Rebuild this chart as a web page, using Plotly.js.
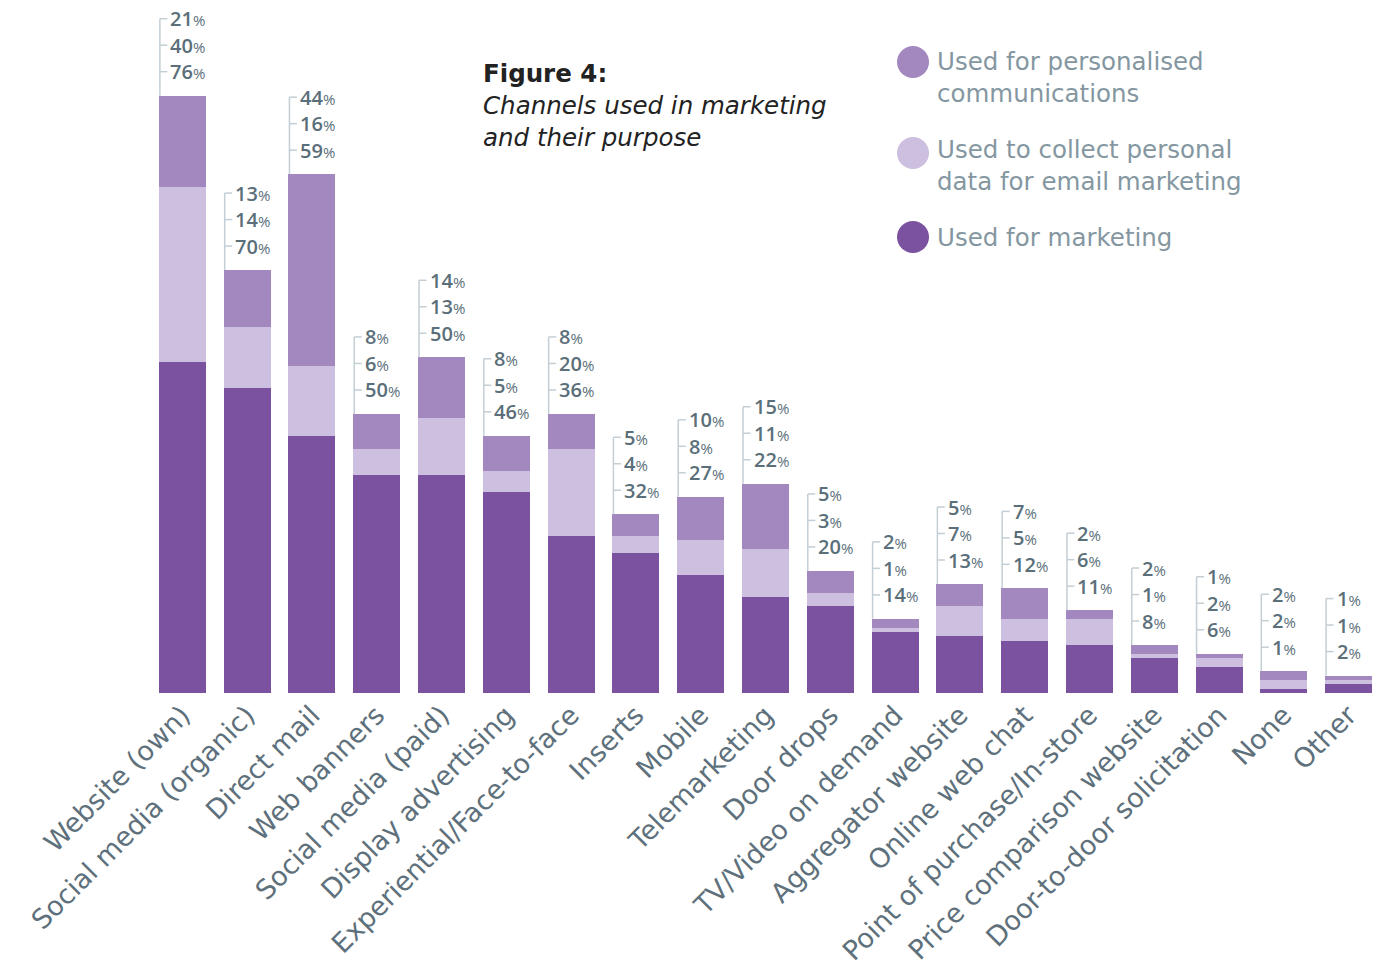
<!DOCTYPE html>
<html>
<head>
<meta charset="utf-8">
<script src="https://cdn.plot.ly/plotly-3.0.1.min.js"></script>
<style>html,body{margin:0;padding:0;background:#fff;}#chart{width:1381px;height:971px;}</style>
</head>
<body>
<div id="chart"></div>
<script>
const categories = ["Website (own)","Social media (organic)","Direct mail","Web banners","Social media (paid)","Display advertising","Experiential/Face-to-face","Inserts","Mobile","Telemarketing","Door drops","TV/Video on demand","Aggregator website","Online web chat","Point of purchase/In-store","Price comparison website","Door-to-door solicitation","None","Other"];
const personalised = [21,13,44,8,14,8,8,5,10,15,5,2,5,7,2,2,1,2,1];
const collectData  = [40,14,16,6,13,5,20,4,8,11,3,1,7,5,6,1,2,2,1];
const marketing    = [76,70,59,50,50,46,36,32,27,22,20,14,13,12,11,8,6,1,2];
const seriesNames = ["Used for personalised<br>communications","Used to collect personal<br>data for email marketing","Used for marketing"];

const C_DARK = "#7b52a0", C_MED = "#a388c0", C_LIGHT = "#cdbfdf";
const TXT = "#5b6f7a", LINE = "#c3ced5";
const WIDE = "DejaVu Sans";

const L = 150, T = 0, PW = 1231, PH = 693;
const px = p => (p - L) / PW;
const py = p => 1 - (p - T) / PH;

const bw = 0.726;
const traces = [
  {type:"bar", x:categories, y:marketing, marker:{color:C_DARK}, width:bw, hoverinfo:"skip"},
  {type:"bar", x:categories, y:collectData, marker:{color:C_LIGHT}, width:bw, hoverinfo:"skip"},
  {type:"bar", x:categories, y:personalised, marker:{color:C_MED}, width:bw, hoverinfo:"skip"}
];

const annotations = [];
const shapes = [];
const shifts = [77, 50.5, 24];
const pct = v => v + "<span style='font-size:15px;font-weight:500'>%</span>";
categories.forEach((c, i) => {
  const tot = marketing[i] + collectData[i] + personalised[i];
  const vals = [personalised[i], collectData[i], marketing[i]];
  shapes.push({type:"line", xref:"x", yref:"y", xsizemode:"pixel", ysizemode:"pixel",
    xanchor:c, yanchor:tot, x0:-22.5, x1:-22.5, y0:0, y1:shifts[0],
    line:{color:LINE, width:1.5}});
  vals.forEach((v, k) => {
    shapes.push({type:"line", xref:"x", yref:"y", xsizemode:"pixel", ysizemode:"pixel",
      xanchor:c, yanchor:tot, x0:-22.5, x1:-15, y0:shifts[k], y1:shifts[k],
      line:{color:LINE, width:1.5}});
    annotations.push({xref:"x", yref:"y", x:c, y:tot, xanchor:"left", yanchor:"middle",
      xshift:-14, yshift:shifts[k], showarrow:false, text:pct(v),
      font:{family:"Open Sans", size:20, color:TXT, weight:600}});
  });
});

// Title
annotations.push({xref:"paper", yref:"paper", x:px(481), y:py(57), xanchor:"left", yanchor:"top", align:"left",
  showarrow:false, text:"<b>Figure 4:</b><br><i>Channels used in marketing</i><br><i>and their purpose</i>",
  font:{family:WIDE, size:24.5, color:"#222"}});

// Legend
const legColors = [C_MED, C_LIGHT, C_DARK];
const legY = [77, 166, 237];
const legCircleY = [62, 153, 237];
seriesNames.forEach((n, k) => {
  shapes.push({type:"circle", xref:"paper", yref:"paper", xsizemode:"pixel", ysizemode:"pixel",
    xanchor:px(913), yanchor:py(legCircleY[k]), x0:-16, x1:16, y0:-16, y1:16,
    fillcolor:legColors[k], line:{width:0}});
  annotations.push({xref:"paper", yref:"paper", x:px(935), y:py(legY[k]), xanchor:"left", yanchor:"middle", align:"left",
    showarrow:false, text:n, font:{family:WIDE, size:24.5, color:"#8497a1"}});
});

const layout = {
  width:1381, height:971,
  margin:{l:L, r:0, t:T, b:971-PH},
  barmode:"stack", showlegend:false,
  paper_bgcolor:"#fff", plot_bgcolor:"#fff",
  xaxis:{type:"category", range:[-0.5, 18.5], tickangle:-45, showgrid:false, showline:false, ticks:"",
    zeroline:false, automargin:false, tickfont:{family:WIDE, size:27, color:"#5d707b"}},
  yaxis:{range:[0, PH/4.36], visible:false, showgrid:false, zeroline:false},
  shapes, annotations
};
Plotly.newPlot("chart", traces, layout, {displayModeBar:false, staticPlot:true});
</script>
</body>
</html>
